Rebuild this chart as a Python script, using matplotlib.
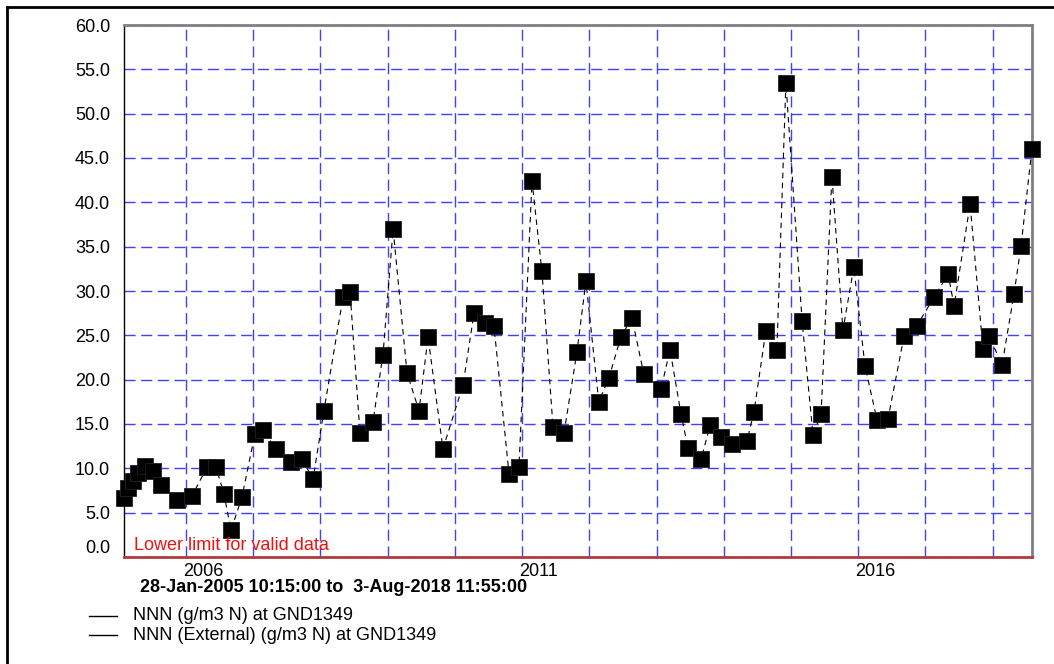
import matplotlib
matplotlib.use('Agg')
import matplotlib.pyplot as plt
from matplotlib.lines import Line2D
import matplotlib.transforms as mtransforms
import pandas as pd

plt.rcParams['font.family'] = ['Liberation Sans', 'DejaVu Sans']

# sample dates and NNN values (g/m3 N)
dates = ['2005-01-28', '2005-02-20', '2005-03-18', '2005-04-15', '2005-05-23',
         '2005-07-05', '2005-08-18', '2005-11-13', '2006-02-02', '2006-04-24',
         '2006-06-13', '2006-07-26', '2006-09-02', '2006-11-01', '2007-01-10',
         '2007-02-23', '2007-05-04', '2007-07-24', '2007-09-23', '2007-11-22',
         '2008-01-20', '2008-05-03', '2008-06-10', '2008-08-03', '2008-10-12',
         '2008-12-06', '2009-01-30', '2009-04-16', '2009-06-20', '2009-08-08',
         '2009-10-28', '2010-02-14', '2010-04-15', '2010-06-14', '2010-08-01',
         '2010-10-22', '2010-12-15', '2011-02-24', '2011-04-19', '2011-06-18',
         '2011-08-17', '2011-10-26', '2011-12-14', '2012-02-22', '2012-04-17',
         '2012-06-21', '2012-08-20', '2012-10-24', '2013-01-25', '2013-03-15',
         '2013-05-14', '2013-06-21', '2013-08-31', '2013-10-19', '2013-12-17',
         '2014-02-15', '2014-05-07', '2014-06-14', '2014-08-18', '2014-10-17',
         '2014-12-05', '2015-03-03', '2015-05-01', '2015-06-14', '2015-08-12',
         '2015-10-11', '2015-12-09', '2016-02-08', '2016-04-13', '2016-06-12',
         '2016-09-07', '2016-11-16', '2017-02-17', '2017-05-05', '2017-06-06',
         '2017-09-01', '2017-11-10', '2017-12-13', '2018-02-22', '2018-04-28',
         '2018-06-05', '2018-08-03']
values = [6.6, 7.8, 8.6, 9.5, 10.3, 9.7, 8.1, 6.4, 6.9, 10.1,
          10.1, 7.1, 3.0, 6.8, 13.9, 14.3, 12.2, 10.7, 11.0, 8.8,
          16.5, 29.3, 29.9, 14.0, 15.2, 22.8, 37.0, 20.7, 16.5, 24.8,
          12.2, 19.4, 27.5, 26.4, 26.1, 9.4, 10.1, 42.4, 32.2, 14.7,
          14.0, 23.1, 31.1, 17.5, 20.2, 24.8, 27.0, 20.6, 18.9, 23.4,
          16.1, 12.3, 11.0, 14.9, 13.5, 12.8, 13.1, 16.3, 25.5, 23.4,
          53.5, 26.6, 13.8, 16.1, 42.9, 25.6, 32.7, 21.5, 15.5, 15.6,
          24.9, 26.1, 29.3, 31.9, 28.3, 39.8, 23.5, 24.9, 21.7, 29.7,
          35.1, 46.0]

start = '2005-01-28 10:15:00'
end = '2018-08-03 11:55:00'
grid_years = list(range(2006, 2019))
label_years = [2006, 2011, 2016]
y_ticks = [0, 5, 10, 15, 20, 25, 30, 35, 40, 45, 50, 55, 60]
legend_labels = ['NNN (g/m3 N) at GND1349', 'NNN (External) (g/m3 N) at GND1349']

FS = 13

fig = plt.figure(figsize=(10.54, 6.64), dpi=100)
ax = fig.add_axes([124 / 1054, 1 - 557 / 664, 908 / 1054, 532 / 664])

x = pd.to_datetime(dates)
ax.plot(x, values, color='black', lw=0.8, ls=(0, (5, 4)), zorder=3)
ax.plot(x, values, ls='none', marker='s', ms=11, mfc='black', mec='#222222',
        mew=0.6, zorder=4, clip_on=False)

ax.set_xlim(pd.Timestamp(start), pd.Timestamp(end))
ax.set_ylim(0, 60)

grid_dates = [pd.Timestamp(f'{y}-01-01') for y in grid_years]
ax.set_xticks(grid_dates)
ax.set_xticklabels([str(y) if y in label_years else '' for y in grid_years],
                   ha='left', fontsize=FS)
ax.set_yticks(y_ticks)
ax.set_yticklabels([f'{v:.1f}' for v in y_ticks], fontsize=FS)
ax.tick_params(axis='both', length=0)
ax.tick_params(axis='x', pad=4)
ax.tick_params(axis='y', pad=10)
shift = mtransforms.ScaledTranslation(-3 / 100, 0, fig.dpi_scale_trans)
for lab in ax.get_xticklabels():
    lab.set_transform(lab.get_transform() + shift)
ax.get_yticklabels()[0].set_verticalalignment('bottom')

ax.grid(True, color='#4040ff', lw=1.0, ls=(0, (8, 4)), zorder=1)

ax.spines['left'].set_color('black')
ax.spines['left'].set_linewidth(1.0)
ax.spines['top'].set_color('#808080')
ax.spines['top'].set_linewidth(2.0)
ax.spines['right'].set_color('#808080')
ax.spines['right'].set_linewidth(2.0)
ax.spines['bottom'].set_color('#b33a3a')
ax.spines['bottom'].set_linewidth(2.0)

fig.text(134 / 1054, 1 - 545 / 664, 'Lower limit for valid data', color='#ee1111',
         fontsize=FS, va='center', ha='left')

fig.text(140 / 1054, 1 - 588 / 664,
         f'{pd.Timestamp(start).strftime("%d-%b-%Y %H:%M:%S")} to  '
         f'{pd.Timestamp(end).day}-{pd.Timestamp(end).strftime("%b-%Y %H:%M:%S")}',
         fontsize=FS, fontweight='bold', va='center', ha='left')

for i, lab in enumerate(legend_labels):
    yy = 1 - (616 + 19 * i) / 664
    fig.add_artist(Line2D([89 / 1054, 117 / 1054], [yy, yy], color='black', lw=1.0))
    fig.text(133 / 1054, yy, lab, fontsize=FS, va='center', ha='left')

# outer frame (only top and left edges fall inside the picture)
fig.add_artist(Line2D([7 / 1054, 7 / 1054], [0, 1 - 7 / 664], color='black', lw=2.0))
fig.add_artist(Line2D([7 / 1054, 1], [1 - 7 / 664, 1 - 7 / 664], color='black', lw=2.0))

fig.savefig('out.png', dpi=100)
